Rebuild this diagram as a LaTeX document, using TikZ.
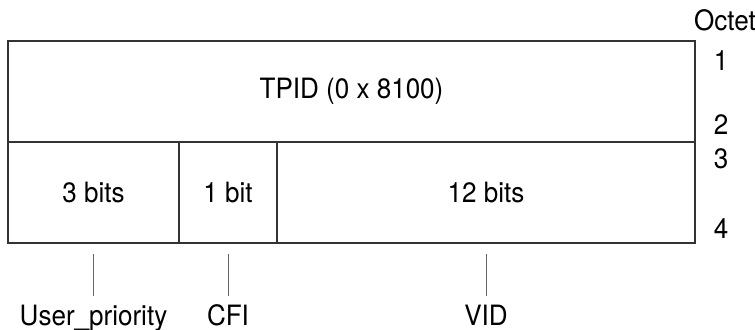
\documentclass[tikz,border=0pt]{standalone}
\usepackage{fontspec}
\setmainfont{TeX Gyre Heros}[FakeStretch=0.93]
\usepackage{tikz}
\usetikzlibrary{positioning}
\tikzset{
	x=0.5pt, y=-0.5pt,
	field/.style={draw=black!80, line width=0.8pt, inner sep=0pt, minimum height=50.5pt},
	octet/.style={inner sep=0pt},
	fieldname/.style={inner sep=0pt, anchor=base},
	tick/.style={draw=black!60, line width=0.5pt}
}

\begin{document}
\begin{tikzpicture}[font=\fontsize{14}{17}\selectfont]
\useasboundingbox (0,0) rectangle (755,329);

\node[field, minimum width=343.5pt] (tpid) at (351.5,91.3) {TPID (0 x 8100)};
\node[field, minimum width=85.5pt] (up) at (93.5,192.2) {3 bits};
\node[field, minimum width=49pt] (cfi) at (228,192.2) {1 bit};
\node[field, minimum width=209pt] (vid) at (486,192.2) {12 bits};

\node[octet] (octet) at (725,20) {Octet};
\node[octet] (o1) at (721,61) {1};
\node[octet] (o2) at (721,125) {2};
\node[octet] (o3) at (721,159) {3};
\node[octet] (o4) at (721,229) {4};

\node[fieldname] (uplbl) at (93.5,325) {User\_priority};
\node[fieldname] (cfilbl) at (228,325) {CFI};
\node[fieldname] (vidlbl) at (486,325) {VID};

\draw[tick] ([yshift=-5.2pt]up.south) -- ([yshift=4pt]uplbl.north);
\draw[tick] ([yshift=-5.2pt]cfi.south) -- ([yshift=4pt]cfilbl.north);
\draw[tick] ([yshift=-5.2pt]vid.south) -- ([yshift=4pt]vidlbl.north);
\end{tikzpicture}
\end{document}
